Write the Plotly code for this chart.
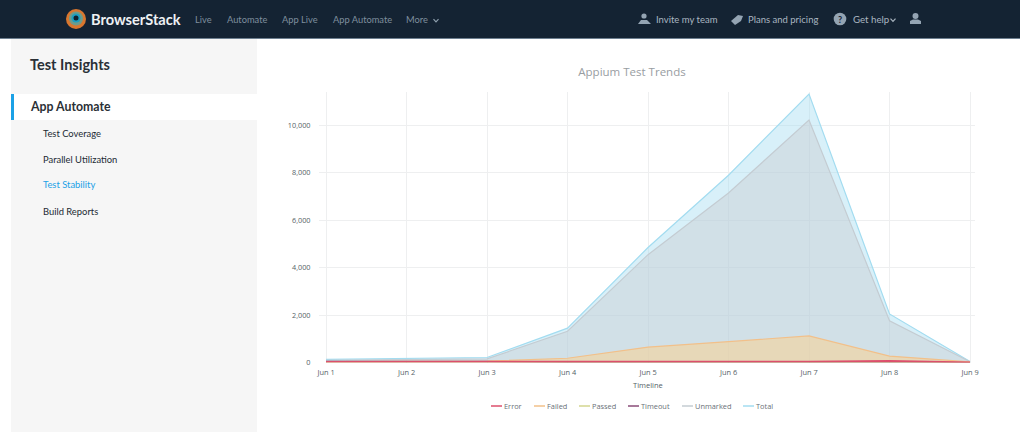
import plotly.graph_objects as go

W, H = 1020, 432

# ------------------ data ------------------ #
dias = ["Jun 1", "Jun 2", "Jun 3", "Jun 4", "Jun 5", "Jun 6", "Jun 7", "Jun 8", "Jun 9"]
error = [30, 30, 30, 25, 35, 40, 45, 70, 10]
failed = [40, 40, 60, 180, 650, 880, 1120, 270, 25]
passed = [20, 20, 25, 30, 30, 30, 40, 40, 10]
timeout = [50, 50, 50, 5, 5, 5, 5, 5, 5]
unmarked = [90, 110, 150, 1320, 4550, 7150, 10230, 1760, 30]
total = [130, 160, 210, 1450, 4850, 7900, 11330, 2050, 45]

y_ticks = [0, 2000, 4000, 6000, 8000, 10000]
nomes = ["Error", "Failed", "Passed", "Timeout", "Unmarked", "Total"]
series = [error, failed, passed, timeout, unmarked, total]
cores = ["#dc4f6c", "#f2c08a", "#d3d68f", "#8a4d78", "#c4ccd2", "#a3dcf0"]
fills = [
    "rgba(220,79,108,0.25)",
    "rgba(253,208,138,0.5)",
    "rgba(211,214,143,0.2)",
    "rgba(138,77,120,0.25)",
    "rgba(201,200,204,0.4)",
    "rgba(163,220,240,0.42)",
]

menu_topo = [("Live", 203), ("Automate", 247), ("App Live", 300), ("App Automate", 362), ("More", 417)]
menu_lateral = [("Test Coverage", 133, "#222a33"), ("Parallel Utilization", 159, "#222a33"),
                ("Test Stability", 185, "#1ba1e6"), ("Build Reports", 211, "#222a33")]
legenda_x = [491, 534, 579, 628, 682, 743]
fonte_ui = "Lato"


def px(x):
    return x / W


def py(y):
    return 1 - y / H


def retangulo(x0, y0, x1, y1, cor):
    return dict(type="rect", xref="paper", yref="paper", x0=px(x0), x1=px(x1), y0=py(y0), y1=py(y1),
                fillcolor=cor, line_width=0, layer="below")


def circulo(cx, cy, r, cor):
    return dict(type="circle", xref="paper", yref="paper", x0=px(cx - r), x1=px(cx + r), y0=py(cy - r),
                y1=py(cy + r), fillcolor=cor, line_width=0, layer="above")


def poligono(pontos, cor):
    caminho = "M " + " L ".join(f"{px(x)} {py(y)}" for x, y in pontos) + " Z"
    return dict(type="path", xref="paper", yref="paper", layer="above", fillcolor=cor, line_width=0, path=caminho)


def chevron(cx, cy, cor):
    caminho = f"M {px(cx - 2.5)} {py(cy - 1.3)} L {px(cx)} {py(cy + 1.3)} L {px(cx + 2.5)} {py(cy - 1.3)}"
    return dict(type="path", xref="paper", yref="paper", layer="above", line=dict(color=cor, width=1.2), path=caminho)


def texto(x, y, s, tam, cor, fonte=fonte_ui, anchor="left"):
    # anotacao tem um recuo interno de ~2px a esquerda
    x_real = x - 2 if anchor == "left" else x
    return dict(xref="paper", yref="paper", x=px(x_real), y=py(y), text=s, showarrow=False, xanchor=anchor,
                yanchor="middle", font=dict(size=tam, color=cor, family=fonte))


fig = go.Figure()
# a primeira serie da legenda fica por cima, entao desenha de tras para frente
for nome, valores, cor, fill in reversed(list(zip(nomes, series, cores, fills))):
    fig.add_trace(
        go.Scatter(x=dias, y=valores, name=nome, mode="lines", fill="tozeroy", fillcolor=fill,
                   line=dict(color=cor, width=1.6 if nome == "Error" else 1.2), showlegend=False)
    )

shapes = [
    retangulo(0, 0, W, 38, "#142333"),
    retangulo(0, 38, W, 39, "#6d7f90"),
    retangulo(11, 39, 257, 432, "#f6f6f6"),
    retangulo(11, 94, 257, 120, "#ffffff"),
    retangulo(11, 94, 14, 120, "#1ba1e6"),
    # logo
    circulo(76, 19, 10, "#d9772f"),
    circulo(76, 18.5, 7, "#6f9b8a"),
    circulo(76, 18, 4.6, "#1c9fc0"),
    circulo(76, 18, 2.5, "#10202c"),
    # icones da barra do topo
    circulo(644, 16, 2.6, "#94a4b3"),
    poligono([(638, 24), (641, 20), (647, 20), (651, 24)], "#94a4b3"),
    poligono([(731, 21), (738, 15), (743, 16), (741, 21), (735, 25)], "#94a4b3"),
    circulo(840, 19, 6.3, "#94a4b3"),
    circulo(915.5, 16, 3, "#94a4b3"),
    poligono([(910, 24), (910, 21), (913, 19.5), (918, 19.5), (921, 21), (921, 24)], "#94a4b3"),
    chevron(436, 20.5, "#8fa0ae"),
    chevron(893, 20, "#aab6c1"),
]
for x0, cor in zip(legenda_x, cores):
    shapes.append(dict(type="line", xref="paper", yref="paper", x0=px(x0), x1=px(x0 + 11), y0=py(406), y1=py(406),
                       line=dict(color=cor, width=1.5)))

anotacoes = [
    texto(91, 19, "<b>BrowserStack</b>", 14.6, "#eef1f4"),
    texto(656, 19, "Invite my team", 9.5, "#aab6c1"),
    texto(748, 19, "Plans and pricing", 9.5, "#aab6c1"),
    texto(853, 19, "Get help", 9.7, "#aab6c1"),
    texto(840, 19, "<b>?</b>", 9, "#142333", anchor="center"),
    texto(30, 64, "<b>Test Insights</b>", 14.5, "#2a3036"),
    texto(30, 107, "<b>App Automate</b>", 12.3, "#2a3036"),
    texto(633, 385, "Timeline", 7.5, "#555f68", fonte="Open Sans"),
]
for s, cx in menu_topo:
    anotacoes.append(texto(cx, 20, s, 9.3, "#7f8f9e", anchor="center"))
for s, y, cor in menu_lateral:
    anotacoes.append(texto(43, y, s, 9.4, cor))
for nome, x0 in zip(nomes, legenda_x):
    anotacoes.append(texto(x0 + 13, 406, nome, 7.4, "#6a7178", fonte="Open Sans"))

fig.update_layout(
    width=W,
    height=H,
    margin=dict(l=0, r=0, t=0, b=0, autoexpand=False),
    paper_bgcolor="#ffffff",
    plot_bgcolor="#ffffff",
    showlegend=False,
    title=dict(text="Appium Test Trends", x=632 / W, xanchor="center", y=1 - 71.5 / H, yanchor="middle",
               font=dict(family="Open Sans", size=11.5, color="#989da2")),
    xaxis=dict(
        domain=[px(319), px(975)],
        type="category",
        range=[-0.087, 8.062],
        automargin=False,
        showgrid=True,
        gridcolor="#eeeff0",
        gridwidth=1,
        zeroline=False,
        ticks="outside",
        ticklen=3,
        tickcolor="rgba(255,255,255,0)",
        tickfont=dict(family="Open Sans", size=7.4, color="#555f68"),
    ),
    yaxis=dict(
        domain=[py(362.5), py(92)],
        range=[0, 11413],
        automargin=False,
        tickvals=y_ticks,
        tickformat=",d",
        showgrid=True,
        gridcolor="#eeeff0",
        gridwidth=1,
        zeroline=False,
        ticks="outside",
        ticklen=6,
        tickcolor="rgba(255,255,255,0)",
        tickfont=dict(family="Open Sans", size=7.3, color="#555f68"),
    ),
    shapes=shapes,
    annotations=anotacoes,
)

fig.write_html("out.html", post_script="document.body.style.margin='0';", config={"displayModeBar": False})
